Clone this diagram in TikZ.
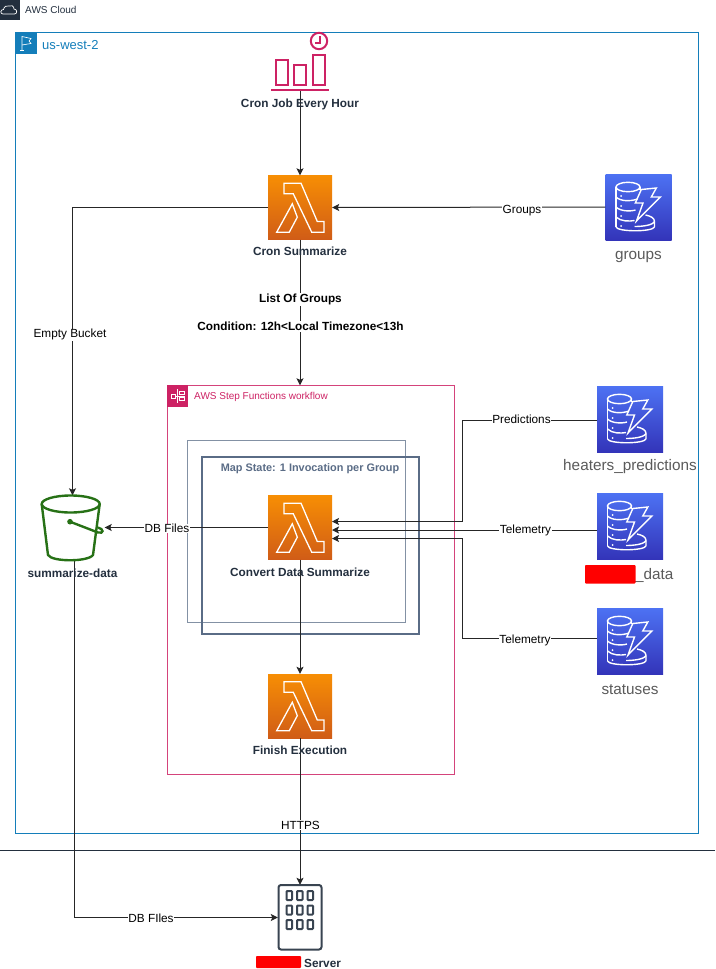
\documentclass[tikz,border=0pt]{standalone}
\usepackage{fontspec}
\setmainfont{Liberation Sans}
\usetikzlibrary{arrows.meta}

\definecolor{awsdark}{HTML}{232F3E}
\definecolor{regionblue}{HTML}{147EBA}
\definecolor{stepspink}{HTML}{CD2264}
\definecolor{mapblue}{HTML}{5A6C86}
\definecolor{bucketgreen}{HTML}{277116}
\definecolor{tablegrey}{HTML}{5A5A5A}
\definecolor{lambdatop}{HTML}{F78E04}
\definecolor{lambdabottom}{HTML}{D05C17}
\definecolor{tabletop}{HTML}{4D72F3}
\definecolor{tablebottom}{HTML}{3334B9}

\newcommand{\lambdaglyph}{%
  \begin{scope}[shift={(path picture bounding box.center)}, draw=white, line width=1.3pt, line join=miter]
    \draw (-16,-24.3) -- (1,-24.3) -- (17.3,14) -- (24,14) -- (24,24.7) -- (11.7,24.7)
        -- (-6.7,-13.7) -- (-16,-13.7) -- cycle;
    \draw (-7.7,-3.7) -- (-2.7,9.7) -- (-10.7,24.7) -- (-23.3,24.7) -- cycle;
  \end{scope}}

\newcommand{\tableglyph}{%
  \begin{scope}[shift={(path picture bounding box.center)}, draw=white, fill=white, line width=1.4pt]
    % Cilindri
    \draw (-10.5,-20) ellipse [x radius=12, y radius=4.7];
    \draw (-22.5,-20) -- (-22.5,20);
    \draw (1.5,-20) -- (1.5,-17);
    \draw (-22.5,-10) .. controls (-18,-5.5) and (-8,-5.5) .. (-1,-8);
    \draw (-22.5,0) .. controls (-18,4.5) and (-8,4.5) .. (-3,3);
    \draw (-22.5,10) .. controls (-18,14.5) and (-9,14.5) .. (-4,13.5);
    \draw (7,8) .. controls (12,9) and (16,11) .. (16,14.5) -- (16,20);
    \draw (-22.5,20) .. controls (-21,25) and (14,25) .. (16,20);
    \draw (16,14.5) .. controls (14,18.5) and (3,19.5) .. (-4,19.5);
    \foreach \doty in {-11,-1,9,19} \fill (-17.5,\doty) circle [radius=1];
    % Saetta
    \draw (2.8,-17.5) -- (17.8,-19) -- (12.8,-10) -- (21.8,-10) -- (-2,14) -- (4.5,-4) -- (-3.2,-4) -- cycle;
  \end{scope}}

\tikzset{
  lambdabox/.style={minimum width=64, minimum height=64, inner sep=0, top color=lambdatop, bottom color=lambdabottom, path picture={\lambdaglyph}},
  tablebox/.style={minimum width=66, minimum height=66, inner sep=0, top color=tabletop, bottom color=tablebottom, path picture={\tableglyph}},
  iconlabel/.style={font=\fontsize{11.8}{14}\selectfont\bfseries, text=awsdark, inner sep=0, yshift=-1pt},
  tablelabel/.style={font=\fontsize{15.3}{18}\selectfont, text=tablegrey, inner sep=0, yshift=-1.5pt},
  edgelabel/.style={font=\fontsize{11.8}{14}\selectfont, fill=white, inner sep=0.5, yshift=-1pt},
  grouplabel/.style={font=\fontsize{11.8}{14}\selectfont\bfseries, fill=white, inner sep=1, yshift=-1pt},
  link/.style={line width=1pt, draw=black!85, -{Stealth[length=7pt,width=7pt,inset=1.5pt]}},
}

\begin{document}
\begin{tikzpicture}[x=1pt, y=-1pt, line join=miter]
    \useasboundingbox (0,0) rectangle (715,969);

    % AWS Cloud
    \fill[awsdark] (0,0) rectangle (19.5,19.5);
    \draw[white, line width=0.7pt] (3,14) .. controls (0,14) and (0,9.5) .. (3.5,9.5)
        .. controls (4,6.5) and (7,5) .. (9,6) .. controls (11,4.5) and (14,6) .. (14,9)
        .. controls (17.5,9) and (17.5,14) .. (14.5,14) -- cycle;
    \node[anchor=west, inner sep=0, font=\fontsize{10}{12}\selectfont, text=awsdark] (cloudtitle) at (25,9.5) {AWS Cloud};
    \draw[awsdark, line width=0.8pt] (0,850.5) -- (715,850.5);

    % Regione
    \draw[regionblue, line width=1pt] (15.5,32.5) rectangle (698.5,833.5);
    \fill[regionblue] (15,32) rectangle (36.5,53.5);
    \draw[white, line width=0.6pt] (22,50) -- (22,36.5) -- (31,38.5) -- (29,41) -- (31,43.5) -- (22,45);
    \draw[white, line width=0.6pt] (20,50) -- (24,50);
    \node[anchor=west, inner sep=0, font=\fontsize{13}{15}\selectfont, text=regionblue] (regiontitle) at (42,45) {us-west-2};

    % Step Functions
    \draw[stepspink!85, line width=1pt] (167.5,385.5) rectangle (454,774);
    \fill[stepspink] (167,385) rectangle (188,406.5);
    \draw[white, line width=0.7pt] (171,394) rectangle (175.5,398.5) (179,391.5) rectangle (184,394.5) (179,397.5) rectangle (184,400.5)
        (177.5,389) -- (177.5,403) (175.5,396) -- (184.5,396);
    \node[anchor=west, inner sep=0, font=\fontsize{10}{12}\selectfont, text=stepspink] (stepstitle) at (194,397) {AWS Step Functions workflow};

    % Map state
    \draw[mapblue!75, line width=1pt] (187.5,440.5) rectangle (405,622.5);
    \draw[mapblue, line width=1.6pt] (202,457) rectangle (419,634);
    \node[inner sep=0, font=\fontsize{10.9}{13}\selectfont\bfseries, text=mapblue] (maptitle) at (310,468.5) {Map State: 1 Invocation per Group};

    % Lambda
    \node[lambdabox] (cronsummarize) at (300,207.5) {};
    \node[lambdabox] (convertdata) at (300,527.5) {};
    \node[lambdabox] (finishexec) at (300,706) {};

    % Tabelle
    \node[tablebox] (groups) at (638.5,207) {};
    \node[tablebox] (predictions) at (630,419) {};
    \node[tablebox] (telemetry) at (630,526) {};
    \node[tablebox] (statuses) at (630,641) {};

    % Evento, bucket e server: solo ancore, il disegno viene dopo
    \node[minimum width=58, minimum height=50, inner sep=0] (cronjob) at (300,65) {};
    \node[minimum width=64, minimum height=64, inner sep=0] (bucket) at (72.5,527.5) {};
    \node[minimum width=44, minimum height=65, inner sep=0] (server) at (300,917.5) {};
    \node[minimum width=287, minimum height=389, inner sep=0] (workflow) at (310.5,580) {};

    % Punti di arrivo e partenza
    \coordinate (convertin1) at (332,521.5);
    \coordinate (convertin2) at (332,530);
    \coordinate (convertin3) at (332,538.5);
    \coordinate (predictionsout) at (597,420.5);
    \coordinate (statusesout) at (597,638.5);
    \coordinate (bucketout) at (74.5,559.5);

    % Connettori
    \draw[link] (cronjob.south) -- (cronsummarize.north);
    \draw[link] (groups.west) -- (cronsummarize.east);
    \draw[link] (cronsummarize.west) -- (72.5,207.5) -- (bucket.north);
    \draw[link] (cronsummarize.south) -- (workflow.north -| cronsummarize.south);
    \draw[link] (convertdata.west) -- (bucket.east);
    \draw[link] (convertdata.south) -- (finishexec.north);
    \draw[link] (finishexec.south) -- (server.north);
    \draw[link] (bucketout) -- (74.5,917.5) -- (server.west);
    \draw[link] (predictionsout) -- (462.5,420.5) -- (462.5,521.5) -- (convertin1);
    \draw[link] (telemetry.west |- convertin2) -- (convertin2);
    \draw[link] (statusesout) -- (462.5,638.5) -- (462.5,538.5) -- (convertin3);

    % Evento orario
    \begin{scope}[draw=stepspink, line width=2pt]
        \draw (275.5,59.5) rectangle (288,85);
        \draw (294,65) rectangle (306,85);
        \draw (313,54.5) rectangle (325,85);
        \draw (271,90) -- (329,90);
        \draw (319,41) circle [radius=8.2];
        \draw[line width=1.5pt] (320,36) -- (320,43) -- (315,43);
    \end{scope}

    % Bucket
    \begin{scope}[draw=bucketgreen, line width=2.4pt]
        \draw (70.7,504) ellipse [x radius=29, y radius=8.5];
        \draw (41.7,504) -- (48,555) .. controls (52,562) and (88,562) .. (93,555) -- (99.7,504);
        \fill[bucketgreen] (70,521.7) circle [radius=2.8];
        \draw (70,521.7) -- (98,532.5) .. controls (104,534) and (104,529) .. (98,527.5);
    \end{scope}

    % Server
    \begin{scope}[draw=awsdark!90, line width=2pt]
        \draw[rounded corners=2.5] (278.5,885) rectangle (321.5,949.5);
        \foreach \winx in {286.5,297,307.5} \foreach \winy in {891,905.5,920}
            \draw[rounded corners=0.8] (\winx,\winy) rectangle +(5.5,9);
    \end{scope}

    % Etichette delle icone
    \node[iconlabel] (cronjoblabel) at (300,103.5) {Cron Job Every Hour};
    \node[iconlabel] (cronsummarizelabel) at (300,250) {Cron Summarize};
    \node[iconlabel] (convertdatalabel) at (300,571) {Convert Data Summarize};
    \node[iconlabel] (finishexeclabel) at (300,749) {Finish Execution};
    \node[iconlabel] (bucketlabel) at (72.5,572) {summarize-data};
    \node[tablelabel] (groupslabel) at (638.5,255) {groups};
    \node[tablelabel] (predictionslabel) at (630,465.5) {heaters\_predictions};
    \node[tablelabel, anchor=west] (telemetrylabel) at (635,573.5) {\_data};
    \node[tablelabel] (statuseslabel) at (630,688) {statuses};
    \node[iconlabel, anchor=west] (serverlabel) at (304,962) {Server};

    % Parti coperte di rosso
    \fill[red, rounded corners=0.8] (585,565) rectangle (635.5,583.5);
    \fill[red, rounded corners=0.8] (256,956) rectangle (301,968);

    % Etichette dei connettori
    \node[edgelabel] (groupsedge) at (522,209.5) {Groups};
    \node[edgelabel] (bucketedge) at (70,333.5) {Empty Bucket};
    \node[edgelabel] (dbedge) at (167,527.5) {DB Files};
    \node[edgelabel] (httpsedge) at (300.5,824) {HTTPS};
    \node[edgelabel] (dbserveredge) at (151,917.5) {DB FIles};
    \node[edgelabel] (predictionsedge) at (521.5,418.5) {Predictions};
    \node[edgelabel] (telemetryedge) at (525.5,529) {Telemetry};
    \node[edgelabel] (statusesedge) at (525,639.5) {Telemetry};
    \node[grouplabel, text=black] (listlabel) at (300.5,298.5) {List Of Groups};
    \node[grouplabel, text=black] (conditionlabel) at (300.5,325.5) {Condition: 12h<Local Timezone<13h};

\end{tikzpicture}
\end{document}
